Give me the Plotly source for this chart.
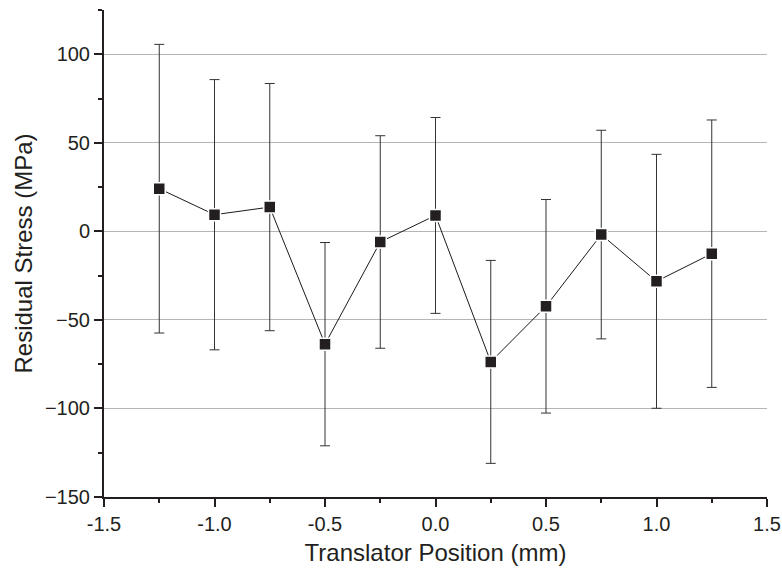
import plotly.graph_objects as go

positions = [-1.25, -1.0, -0.75, -0.5, -0.25, 0.0, 0.25, 0.5, 0.75, 1.0, 1.25]
stress = [24.1, 9.4, 13.7, -63.7, -6.0, 9.0, -73.7, -42.3, -1.8, -28.2, -12.6]
errors = [81.5, 76.3, 69.8, 57.4, 60.0, 55.3, 57.3, 60.3, 58.9, 71.7, 75.5]

x_ticks = [-1.5, -1.0, -0.5, 0.0, 0.5, 1.0, 1.5]
x_labels = ["-1.5", "-1.0", "-0.5", "0.0", "0.5", "1.0", "1.5"]
y_ticks = [-150, -100, -50, 0, 50, 100]

fig = go.Figure()
fig.add_trace(go.Scatter(
    x=positions, y=stress, mode="lines+markers",
    line=dict(color="#1a1a1a", width=1),
    marker=dict(symbol="square", size=12, color="#231f20",
                line=dict(color="white", width=1.5)),
    error_y=dict(type="data", array=errors, visible=True,
                 color="#333333", thickness=1, width=5),
    showlegend=False,
))

font = "Liberation Sans, Arial, sans-serif"
fig.update_layout(
    width=782, height=572,
    margin=dict(l=104, r=15, t=10, b=75),
    paper_bgcolor="white", plot_bgcolor="white",
    font=dict(family=font, size=20, color="#231f20"),
    xaxis=dict(
        range=[-1.5, 1.5], tickvals=x_ticks, ticktext=x_labels,
        ticklabeloverflow="allow", automargin=False,
        showline=True, linecolor="#231f20", linewidth=2, mirror=False,
        ticks="outside", ticklen=8, tickwidth=2, tickcolor="#231f20",
        minor=dict(dtick=0.25, tick0=0, ticks="outside", ticklen=4,
                   tickwidth=1.5, tickcolor="#231f20", showgrid=False),
        showgrid=False, zeroline=False,
        title=dict(text="Translator Position (mm)", font=dict(size=24), standoff=10),
    ),
    yaxis=dict(
        range=[-150, 125], tickvals=y_ticks, automargin=False,
        showline=True, linecolor="#231f20", linewidth=2, mirror=False,
        ticks="outside", ticklen=8, tickwidth=2, tickcolor="#231f20",
        minor=dict(dtick=25, tick0=0, ticks="outside", ticklen=4,
                   tickwidth=1.5, tickcolor="#231f20", showgrid=False),
        showgrid=True, gridcolor="#b5b5b5", gridwidth=1, zeroline=False,
        title=dict(text="Residual Stress (MPa)", font=dict(size=24), standoff=6),
    ),
)

fig.write_html("out.html")
